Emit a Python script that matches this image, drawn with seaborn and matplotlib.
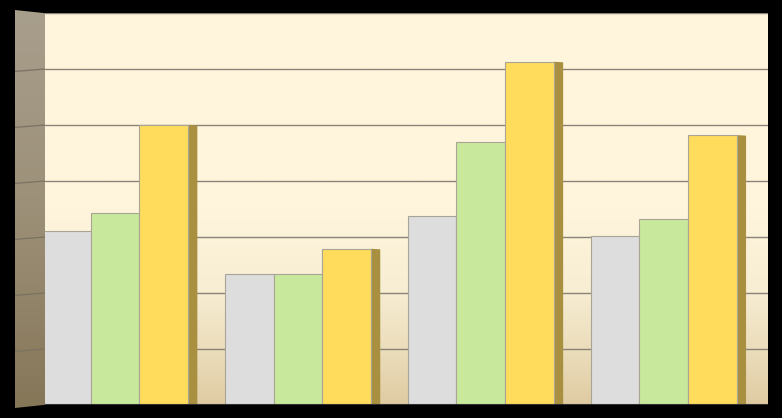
import numpy as np
import pandas as pd
import matplotlib
matplotlib.use('Agg')
import matplotlib.pyplot as plt
from matplotlib.colors import LinearSegmentedColormap
from matplotlib.patches import Polygon
import seaborn as sns

# values (scale 0-7, one gridline per unit)
groups = ['A', 'B', 'C', 'D']
series = ['S1', 'S2', 'S3']
s1 = [3.11, 2.34, 3.38, 3.02]
s2 = [3.43, 2.34, 4.70, 3.32]
s3 = [5.00, 2.79, 6.13, 4.82]

colors = ['#dddddd', '#c8e89c', '#ffdc5c']
side_colors = ['#a0a0a0', '#98b070', '#a89040']

df = pd.DataFrame({
    'group': groups * 3,
    'series': [s for s in series for _ in groups],
    'value': s1 + s2 + s3,
})

sns.set_style('white')
fig = plt.figure(figsize=(7.82, 4.18), dpi=100, facecolor='black')
W, H = 782, 418

# back wall
ax = fig.add_axes([45 / W, 13 / H, (768 - 45) / W, (405 - 13) / H])
wall = LinearSegmentedColormap.from_list(
    'wall', [(0, '#dfcba2'), (0.12, '#eadbb8'), (0.3, '#f8eed4'), (0.5, '#fff5dc'), (1, '#fff6dc')])
grad = np.linspace(0, 1, 256).reshape(-1, 1)
ax.imshow(grad, cmap=wall, aspect='auto', origin='lower', extent=[0, 1, 0, 1],
          transform=ax.transAxes, zorder=0)

sns.barplot(data=df, x='group', y='value', hue='series', palette=colors, saturation=1,
            width=0.8, edgecolor='#a8a496', linewidth=0.8, legend=False, ax=ax, zorder=2)

# side faces of the bars
depth = 0.05
for i, bar in enumerate(ax.patches):
    x1 = bar.get_x() + bar.get_width()
    h = bar.get_height()
    c = side_colors[i // len(groups)]
    ax.add_patch(Polygon([(x1, 0), (x1 + depth, 0.02), (x1 + depth, h - 0.01), (x1, h)],
                         closed=True, facecolor=c, edgecolor='none', zorder=1.5))

ax.set_xlim(-0.383, 3.57)
ax.set_ylim(0, 7)
ax.set_yticks(range(0, 8))
ax.grid(axis='y', color='#8a8478', linewidth=1.0)
ax.set_axisbelow(True)
ax.set_xticks([])
ax.tick_params(left=False, labelleft=False)
ax.set_xlabel('')
ax.set_ylabel('')
for s in ax.spines.values():
    s.set_visible(False)
ax.axhline(0, color='#303030', linewidth=1.5, zorder=3)

# left side wall
lw = fig.add_axes([15 / W, 10 / H, 30 / W, (408 - 10) / H])
lw.set_xlim(0, 1)
lw.set_ylim(0, 1)
lw.axis('off')
side = LinearSegmentedColormap.from_list('side', ['#867658', '#9c9078', '#a89e8c'])
im = lw.imshow(grad, cmap=side, aspect='auto', origin='lower', extent=[0, 1, 0, 1], zorder=0)
trap = Polygon([(0, 0), (1, 0.008), (1, 0.992), (0, 1)], closed=True, transform=lw.transData)
im.set_clip_path(trap)
for k in range(1, 7):
    yf = (3 + k * 56) / (408 - 10)
    lw.plot([0, 1], [yf - 0.006, yf], color='#7a7262', linewidth=0.9)

fig.savefig('out.png', dpi=100, facecolor='black')
